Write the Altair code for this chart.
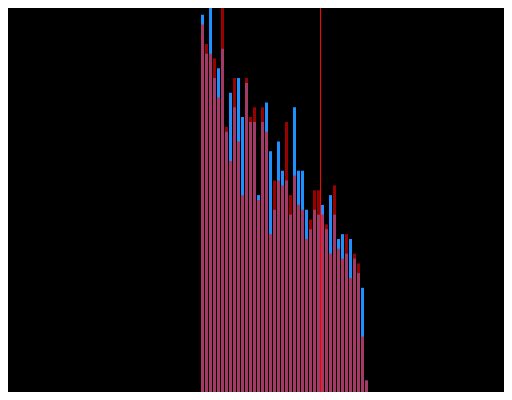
import altair as alt
import pandas as pd

# histogram bin starts (bin width 1)
bin_start = list(range(42))
blue_counts = [79, 71, 81, 66, 68, 72, 55, 63, 60, 66, 58, 65, 57, 57, 42, 57, 61, 51, 39, 53,
               47, 45, 38, 60, 47, 47, 39, 35, 39, 38, 40, 35, 42, 38, 33, 34, 30, 33, 29, 26,
               23, 4]
red_counts = [77, 73, 71, 70, 62, 86, 56, 49, 66, 53, 42, 66, 58, 60, 41, 60, 55, 34, 45, 45,
              44, 57, 42, 46, 40, 39, 33, 37, 43, 43, 38, 36, 30, 44, 31, 29, 34, 25, 30, 28,
              13, 4]
mean_line = [29.875]

df = pd.DataFrame({"start": bin_start, "blue": blue_counts, "red": red_counts})
df["end"] = df["start"] + 0.75
df["zero"] = 0

xs = alt.Scale(domain=[-48.25, 75.75], nice=False, zero=False)
ys = alt.Scale(domain=[1.64, 80.36], nice=False, zero=False)

blue = alt.Chart(df).mark_bar(color="#1e90ff", opacity=1, clip=True).encode(
    x=alt.X("start:Q", scale=xs, axis=None),
    x2="end:Q",
    y=alt.Y("blue:Q", scale=ys, axis=None),
    y2="zero:Q",
)
red = alt.Chart(df).mark_bar(color="#ff0000", opacity=0.6, clip=True).encode(
    x=alt.X("start:Q", scale=xs, axis=None),
    x2="end:Q",
    y=alt.Y("red:Q", scale=ys, axis=None),
    y2="zero:Q",
)
rule = alt.Chart(pd.DataFrame({"m": mean_line})).mark_rule(color="#ff0000", strokeWidth=1).encode(
    x=alt.X("m:Q", scale=xs, axis=None)
)

chart = alt.layer(blue, red, rule).properties(
    width=496, height=384, padding=0, autosize=alt.AutoSizeParams(type="none"),
    background="black",
).configure_view(stroke=None)

chart.save("out.html", embed_options={"renderer": "svg", "actions": False})
